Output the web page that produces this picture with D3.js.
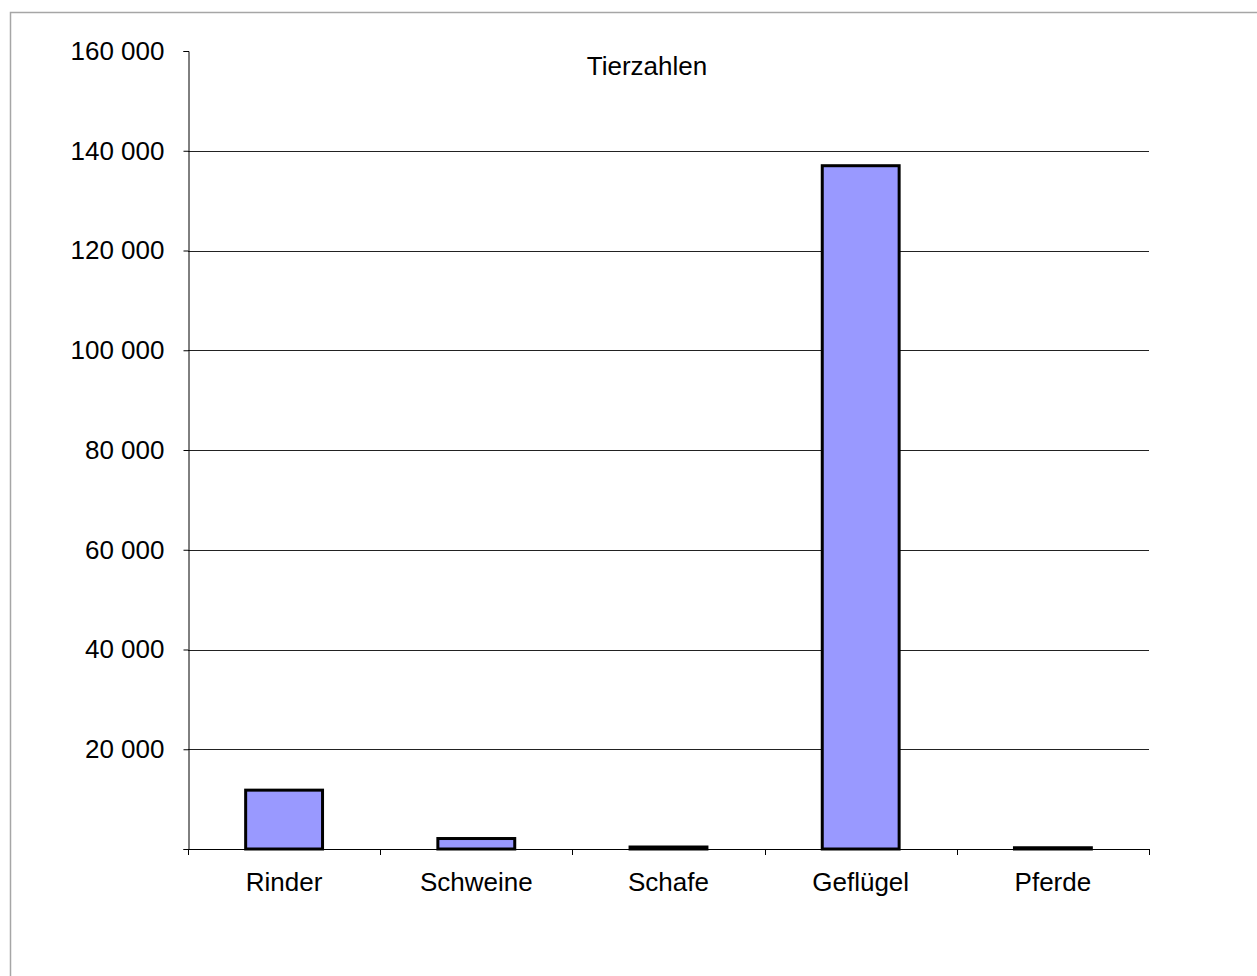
<!DOCTYPE html>
<html>
<head>
<meta charset="utf-8">
<script src="https://cdn.jsdelivr.net/npm/d3@7"></script>
<style>
  body { margin: 0; background: #fff; }
  svg { display: block; font-family: "Liberation Sans", Arial, sans-serif; }
</style>
</head>
<body>
<svg width="1257" height="976"></svg>
<script>
// data
var categories = ["Rinder", "Schweine", "Schafe", "Geflügel", "Pferde"];
var values = [11800, 2100, 400, 137000, 250];
var yTicks = [0, 20000, 40000, 60000, 80000, 100000, 120000, 140000, 160000];
var chartTitle = "Tierzahlen";

var svg = d3.select("svg"),
  width = +svg.attr("width"),
  height = +svg.attr("height");

var margin = {top: 51, right: 108, bottom: 127, left: 188};
var fontSize = 26;

// outer frame (gray)
svg.append("rect")
  .attr("x", 10.5).attr("y", 12.5)
  .attr("width", width + 20).attr("height", height + 20)
  .attr("fill", "none")
  .attr("stroke", "#a6a6a6")
  .attr("stroke-width", 1.5);

var x = d3.scaleBand()
  .domain(categories)
  .range([margin.left, width - margin.right])
  .paddingInner(0.6)
  .paddingOuter(0.3);

var y = d3.scaleLinear()
  .domain([0, 160000])
  .range([height - margin.bottom, margin.top]);

var locale = d3.formatLocale({decimal: ",", thousands: " ", grouping: [3], currency: ["", " €"]});
var fmt = locale.format(",d");

// gridlines
svg.append("g")
  .selectAll("line")
  .data(yTicks.filter(function(d) { return d > 0 && d < 160000; }))
  .enter()
  .append("line")
    .attr("x1", margin.left)
    .attr("x2", width - margin.right)
    .attr("y1", function(d) { return Math.round(y(d)) + 0.5; })
    .attr("y2", function(d) { return Math.round(y(d)) + 0.5; })
    .attr("stroke", "#222")
    .attr("stroke-width", 1);

// y axis
var yAxis = svg.append("g")
  .attr("transform", "translate(" + (margin.left + 0.5) + ",0)")
  .call(d3.axisLeft(y)
    .tickValues(yTicks)
    .tickSize(5)
    .tickPadding(19)
    .tickFormat(function(d) { return d === 0 ? "" : fmt(d); }));
yAxis.select(".domain").attr("stroke", "#000");
yAxis.selectAll(".tick line").attr("stroke", "#000");
yAxis.selectAll("text")
  .attr("font-size", fontSize)
  .attr("fill", "#000")
  .attr("font-family", "Liberation Sans, Arial, sans-serif");

// x axis: ticks between categories
var xa = svg.append("g");
xa.append("line")
  .attr("x1", margin.left).attr("x2", width - margin.right)
  .attr("y1", Math.round(y(0)) + 0.5).attr("y2", Math.round(y(0)) + 0.5)
  .attr("stroke", "#000");
xa.selectAll(".tk")
  .data(d3.range(categories.length + 1))
  .enter()
  .append("line")
    .attr("class", "tk")
    .attr("x1", function(i) { return Math.round(margin.left + i * (width - margin.left - margin.right) / categories.length) + 0.5; })
    .attr("x2", function(i) { return Math.round(margin.left + i * (width - margin.left - margin.right) / categories.length) + 0.5; })
    .attr("y1", Math.round(y(0)))
    .attr("y2", Math.round(y(0)) + 6)
    .attr("stroke", "#000");
xa.selectAll("text")
  .data(categories)
  .enter()
  .append("text")
    .attr("x", function(d) { return x(d) + x.bandwidth() / 2; })
    .attr("y", y(0) + 42)
    .attr("text-anchor", "middle")
    .attr("font-size", fontSize)
    .text(function(d) { return d; });

// bars
svg.append("g")
  .selectAll("rect")
  .data(values)
  .enter()
  .append("rect")
    .attr("x", function(d, i) { return x(categories[i]); })
    .attr("y", function(d) { return y(d); })
    .attr("width", x.bandwidth())
    .attr("height", function(d) { return y(0) - y(d); })
    .attr("fill", "#9999ff")
    .attr("stroke", "#000")
    .attr("stroke-width", 3);

// chart title
svg.append("text")
  .attr("x", 647)
  .attr("y", 75)
  .attr("text-anchor", "middle")
  .attr("font-size", fontSize)
  .text(chartTitle);
</script>
</body>
</html>
